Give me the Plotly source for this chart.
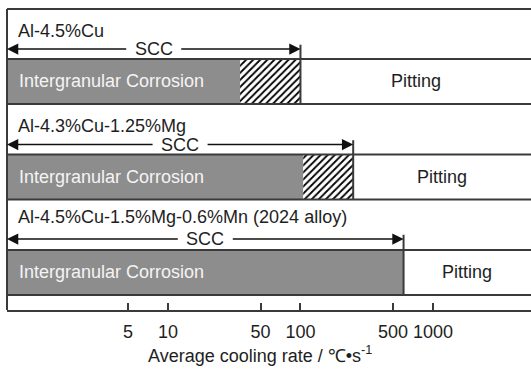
import math
import plotly.graph_objects as go

# Alloys, listed top to bottom
alloys = ["Al-4.5%Cu", "Al-4.3%Cu-1.25%Mg", "Al-4.5%Cu-1.5%Mg-0.6%Mn (2024 alloy)"]
# Cooling rate (°C/s) up to which intergranular corrosion occurs
igc_limit = [35, 105, 600]
# Cooling rate up to which the mixed (hatched) zone extends; pitting beyond
mixed_limit = [100, 250, 600]
# Upper cooling rate of SCC susceptibility
scc_limit = [100, 250, 600]

tick_vals = [5, 10, 50, 100, 500, 1000]
tick_text = ["5", "10", "50", "100", "500", "1000"]
x_title = "Average cooling rate / ℃•s<sup>-1</sup>"
igc_text = "Intergranular Corrosion"
pit_text = "Pitting"
scc_text = "SCC"

# ---- styling / layout constants ----
W, H = 531, 372
M_L, M_R, M_T, M_B = 7, 0, 9, 62
LOG_RANGE = [-0.215, 3.74]
Y_RANGE = [2.393, -0.759]          # reversed: first alloy on top
BAR_W = 0.471
ARROW_OFFS = [0.34, 0.34, 0.35]    # SCC arrow height above each bar centre
LABEL_OFFS = [0.53, 0.53, 0.58]    # alloy name height above each bar centre
GRAY = "#8d8d8d"
LINE = "#3a3a3a"
INK = "#1e1e1e"
FONT = "Liberation Sans, Arial, sans-serif"
FS = 18

x_min = 10 ** LOG_RANGE[0]
px_per_decade = (W - M_L - M_R) / (LOG_RANGE[1] - LOG_RANGE[0])
scc_half_gap = 26 / px_per_decade   # half width of the gap left for the SCC label (log units)

rows = list(range(len(alloys)))

fig = go.Figure()

# Intergranular corrosion zone
fig.add_trace(go.Bar(
    orientation="h", y=rows, base=[x_min] * len(rows),
    x=[g - x_min for g in igc_limit], width=BAR_W,
    marker=dict(color=GRAY, line=dict(width=0)),
    hoverinfo="skip", showlegend=False,
))

# Mixed zone (hatched)
hy, hb, hx = [], [], []
for r, g, m in zip(rows, igc_limit, mixed_limit):
    if m > g:
        hy.append(r)
        hb.append(g)
        hx.append(m - g)
fig.add_trace(go.Bar(
    orientation="h", y=hy, base=hb, x=hx, width=BAR_W,
    marker=dict(color="white", line=dict(width=0),
                pattern=dict(shape="/", fgcolor="black", bgcolor="white",
                             size=5, solidity=0.36, fillmode="replace")),
    hoverinfo="skip", showlegend=False,
))

# Boundary line between the corrosion zones and pitting
for r, s, ao in zip(rows, scc_limit, ARROW_OFFS):
    fig.add_trace(go.Scatter(
        x=[s, s], y=[r - ao - 0.045, r + BAR_W / 2],
        mode="lines", line=dict(color=LINE, width=2),
        hoverinfo="skip", showlegend=False,
    ))

shapes = []
for r in rows:
    for edge in (r - BAR_W / 2, r + BAR_W / 2):
        shapes.append(dict(type="line", xref="paper", yref="y", x0=0, x1=1,
                           y0=edge, y1=edge, line=dict(color=LINE, width=2)))
shapes.append(dict(type="line", xref="paper", yref="paper", x0=0, x1=1,
                   y0=1, y1=1, line=dict(color=LINE, width=2)))
shapes.append(dict(type="line", xref="paper", yref="paper", x0=0, x1=0,
                   y0=0, y1=1, line=dict(color=LINE, width=2)))

annotations = []
for r, name, s, m, ao, lo in zip(rows, alloys, scc_limit, mixed_limit,
                                  ARROW_OFFS, LABEL_OFFS):
    y_arrow = r - ao
    ls = math.log10(s)
    mid = (LOG_RANGE[0] + ls) / 2
    # SCC range arrows (left and right of the label)
    for tip, tail in ((ls, mid + scc_half_gap), (LOG_RANGE[0], mid - scc_half_gap)):
        annotations.append(dict(
            x=tip, y=y_arrow, ax=tail, ay=y_arrow,
            xref="x", yref="y", axref="x", ayref="y",
            text="", showarrow=True, arrowhead=2, arrowsize=1.5,
            arrowwidth=1.5, arrowcolor="#111111", standoff=0,
        ))
    annotations.append(dict(
        x=mid, y=y_arrow, xref="x", yref="y", text=scc_text,
        showarrow=False, font=dict(family=FONT, size=FS, color=INK),
    ))
    # Alloy name
    annotations.append(dict(
        x=0, y=r - lo, xref="paper", yref="y", xanchor="left",
        xshift=9, text=name, showarrow=False,
        font=dict(family=FONT, size=FS, color=INK),
    ))
    # Zone labels
    annotations.append(dict(
        x=0, y=r, xref="paper", yref="y", xanchor="left", xshift=10,
        text=igc_text, showarrow=False,
        font=dict(family=FONT, size=FS, color="#f4f4f4"),
    ))
    annotations.append(dict(
        x=(math.log10(m) + LOG_RANGE[1]) / 2, y=r, xref="x", yref="y",
        text=pit_text, showarrow=False,
        font=dict(family=FONT, size=FS, color=INK),
    ))

# Axis title
annotations.append(dict(
    x=(260 - M_L) / (W - M_L - M_R), y=0, xref="paper", yref="paper",
    yanchor="middle", yshift=-44, text=x_title, showarrow=False,
    font=dict(family=FONT, size=FS, color=INK),
))

fig.update_layout(
    width=W, height=H,
    margin=dict(l=M_L, r=M_R, t=M_T, b=M_B, autoexpand=False),
    paper_bgcolor="white", plot_bgcolor="white",
    barmode="overlay", showlegend=False,
    font=dict(family=FONT, size=FS, color=INK),
    xaxis=dict(
        type="log", range=LOG_RANGE, tickvals=tick_vals, ticktext=tick_text,
        ticks="inside", ticklen=7, tickwidth=1.5, tickcolor=LINE,
        showline=True, linecolor=LINE, linewidth=2,
        showgrid=False, zeroline=False, ticklabelstandoff=4,
        tickfont=dict(family=FONT, size=FS, color=INK),
    ),
    yaxis=dict(range=Y_RANGE, visible=False, showgrid=False, zeroline=False),
    shapes=shapes,
    annotations=annotations,
)

fig.write_html("out.html")
